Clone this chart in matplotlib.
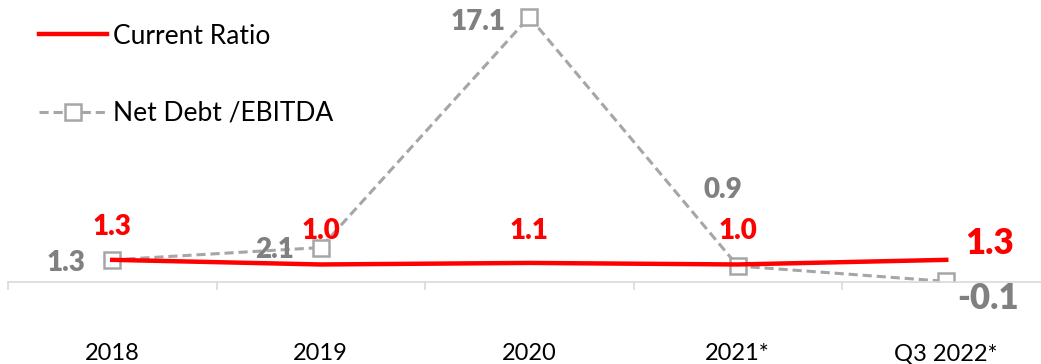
import numpy as np
import matplotlib.pyplot as plt
from matplotlib.ticker import FixedLocator

plt.rcParams['font.family'] = ['Lato', 'DejaVu Sans']

categories = ['2018', '2019', '2020', '2021*', 'Q3 2022*']
current_ratio = [1.3, 1.0, 1.1, 1.0, 1.3]
net_debt_ebitda = [1.3, 2.1, 17.1, 0.9, -0.1]

# label offsets in points (dx, dy) from each point
cr_offsets = [(0, 24), (0, 24), (0, 23), (0, 24), (31, 12)]
cr_sizes = [20, 20, 20, 20, 25]
nd_offsets = [(-33, -2), (-33, -2), (-37, -4), (-11, 55), (30, -12)]
nd_sizes = [20, 20, 20, 20, 25]

red = '#FF0000'
gray_line = '#A6A6A6'
gray_text = '#808080'

W, H = 1041, 364
fig = plt.figure(figsize=(W / 100, H / 100), dpi=100)
# axes spans x 8..1050 px, y 0..282 px (from top)
ax = fig.add_axes([8 / W, (H - 282.3) / H, 1042.5 / W, 282.3 / H])
ax.set_xlim(-0.5, 4.5)
ax.set_ylim(-0.16, 18.2)

x = np.arange(len(categories))
ax.plot(x, net_debt_ebitda, color=gray_line, lw=2.2, ls=(0, (3, 1.6)),
        marker='s', ms=12, mfc='white', mec=gray_line, mew=1.8,
        label='Net Debt /EBITDA', zorder=2)
ax.plot(x, current_ratio, color=red, lw=3.2, label='Current Ratio', zorder=3)

for i, v in enumerate(current_ratio):
    ax.annotate(f'{v:.1f}', (x[i], v), xytext=cr_offsets[i], textcoords='offset points',
                ha='center', va='center', color=red, fontsize=cr_sizes[i],
                fontweight='heavy', zorder=5)
for i, v in enumerate(net_debt_ebitda):
    ax.annotate(f'{v:.1f}', (x[i], v), xytext=nd_offsets[i], textcoords='offset points',
                ha='center', va='center', color=gray_text, fontsize=nd_sizes[i],
                fontweight='heavy', zorder=4)

for s in ['top', 'right', 'left']:
    ax.spines[s].set_visible(False)
ax.spines['bottom'].set_color('#D9D9D9')
ax.spines['bottom'].set_linewidth(1.2)
ax.set_yticks([])
ax.set_xticks(x)
ax.set_xticklabels(categories, fontsize=17)
ax.tick_params(axis='x', which='major', length=0, pad=44)
ax.xaxis.set_minor_locator(FixedLocator(np.arange(-0.5, 5, 1)))
ax.tick_params(axis='x', which='minor', length=6, color='#D9D9D9', width=1.2, direction='out')

handles, labels = ax.get_legend_handles_labels()
leg = fig.legend(handles[::-1], labels[::-1], loc='upper left',
                 bbox_to_anchor=(28 / W, 1 - 13 / H), frameon=False,
                 fontsize=19, handlelength=2.6, handletextpad=0.22,
                 labelspacing=1.98, numpoints=1, borderaxespad=0)

fig.savefig('out.png', dpi=100)
